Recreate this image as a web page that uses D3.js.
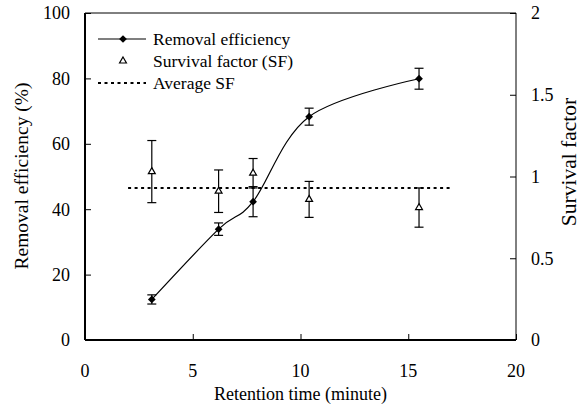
<!DOCTYPE html>
<html>
<head>
<meta charset="utf-8">
<script src="https://cdn.jsdelivr.net/npm/d3@7"></script>
<style>
  body { margin: 0; background: #fff; }
</style>
</head>
<body>
<script>
// retention time (minute)
const times = [3.1, 6.2, 7.8, 10.4, 15.5];
// removal efficiency (%) and its error
const removal = [12.4, 33.9, 42.3, 68.3, 79.9];
const removalErr = [1.4, 1.9, 4.6, 2.6, 3.2];
// survival factor and its error
const survival = [1.03, 0.91, 1.02, 0.86, 0.81];
const survivalErr = [0.19, 0.13, 0.09, 0.11, 0.12];
const averageSF = 0.93;
const avgRange = [2, 17];

const xTicks = [0, 5, 10, 15, 20];
const yTicks = [0, 20, 40, 60, 80, 100];
const y2Ticks = [0, 0.5, 1, 1.5, 2];

const W = 581, H = 408;
const margin = { left: 85, right: 65, top: 13, bottom: 68 };
const FONT = 'Liberation Serif';

const svg = d3.select('body').append('svg')
  .attr('width', W)
  .attr('height', H);

const x = d3.scaleLinear().domain([0, 20]).range([margin.left, W - margin.right]);
const y = d3.scaleLinear().domain([0, 100]).range([H - margin.bottom, margin.top]);
const y2 = d3.scaleLinear().domain([0, 2]).range([H - margin.bottom, margin.top]);

const fontSize = 18;

// every label goes through here so the serif face sticks
const label = (sel, size) => sel
  .style('font-family', FONT)
  .style('font-size', size + 'px')
  .attr('fill', '#000');

// frame: top thin, left and bottom heavier
svg.append('line')
  .attr('x1', x(0)).attr('x2', x(20)).attr('y1', y(100)).attr('y2', y(100))
  .attr('stroke', '#000').attr('stroke-width', 1);

// axes with inward ticks
const xAxis = svg.append('g')
  .attr('transform', `translate(0,${y(0)})`)
  .call(d3.axisTop(x).tickValues(xTicks).tickSize(6).tickFormat(''));
xAxis.select('.domain').attr('stroke-width', 2).attr('d', `M${x(0)},0H${x(20)}`);

svg.append('g')
  .selectAll('text')
  .data(xTicks)
  .join('text')
  .attr('x', d => x(d))
  .attr('y', y(0) + 37)
  .attr('text-anchor', 'middle')
  .call(label, fontSize)
  .text(d => d);

const yAxis = svg.append('g')
  .attr('transform', `translate(${x(0)},0)`)
  .call(d3.axisRight(y).tickValues(yTicks).tickSize(6).tickFormat(''));
yAxis.select('.domain').attr('stroke-width', 2).attr('d', `M0,${y(0)}V${y(100)}`);

svg.append('g')
  .selectAll('text')
  .data(yTicks)
  .join('text')
  .attr('x', x(0) - 15)
  .attr('y', d => y(d))
  .attr('dy', '0.35em')
  .attr('text-anchor', 'end')
  .call(label, fontSize)
  .text(d => d);

const y2Axis = svg.append('g')
  .attr('transform', `translate(${x(20)},0)`)
  .call(d3.axisLeft(y2).tickValues(y2Ticks).tickSize(6).tickFormat(''));
y2Axis.select('.domain').attr('stroke-width', 1).attr('d', `M0,${y2(0)}V${y2(2)}`);

svg.append('g')
  .selectAll('text')
  .data(y2Ticks)
  .join('text')
  .attr('x', x(20) + 15)
  .attr('y', d => y2(d))
  .attr('dy', '0.35em')
  .attr('text-anchor', 'start')
  .call(label, fontSize)
  .text(d => d);

// axis titles
svg.append('text')
  .attr('x', (x(0) + x(20)) / 2)
  .attr('y', 400)
  .attr('text-anchor', 'middle')
  .call(label, fontSize)
  .text('Retention time (minute)');

svg.append('text')
  .attr('transform', `translate(28,176) rotate(-90)`)
  .attr('text-anchor', 'middle')
  .call(label, 19.5)
  .text('Removal efficiency (%)');

svg.append('text')
  .attr('transform', `translate(576,162) rotate(-90)`)
  .attr('text-anchor', 'middle')
  .call(label, 21.5)
  .text('Survival factor');

// average SF line
svg.append('line')
  .attr('x1', x(avgRange[0])).attr('x2', x(avgRange[1]))
  .attr('y1', y2(averageSF)).attr('y2', y2(averageSF))
  .attr('stroke', '#000').attr('stroke-width', 2)
  .attr('stroke-dasharray', '3,3.5');

const reData = times.map((t, i) => ({ t, v: removal[i], e: removalErr[i] }));
const sfData = times.map((t, i) => ({ t, v: survival[i], e: survivalErr[i] }));

// error bars
const drawErr = (data, scale) => {
  const g = svg.append('g').attr('stroke', '#000').attr('stroke-width', 1.2);
  data.forEach(d => {
    const cx = x(d.t);
    g.append('line').attr('x1', cx).attr('x2', cx)
      .attr('y1', scale(d.v - d.e)).attr('y2', scale(d.v + d.e));
    [d.v - d.e, d.v + d.e].forEach(v => {
      g.append('line').attr('x1', cx - 4.5).attr('x2', cx + 4.5)
        .attr('y1', scale(v)).attr('y2', scale(v));
    });
  });
};
drawErr(sfData, y2);
drawErr(reData, y);

// smoothed removal curve
const line = d3.line()
  .x(d => x(d.t))
  .y(d => y(d.v))
  .curve(d3.curveCardinal);

svg.append('path')
  .datum(reData)
  .attr('d', line)
  .attr('fill', 'none')
  .attr('stroke', '#000')
  .attr('stroke-width', 1.2);

const diamond = d3.symbol().type(d3.symbolDiamond2).size(38);
const triangle = d3.symbol().type(d3.symbolTriangle2).size(34);

svg.append('g')
  .selectAll('path')
  .data(reData)
  .join('path')
  .attr('transform', d => `translate(${x(d.t)},${y(d.v)})`)
  .attr('d', diamond)
  .attr('fill', '#000');

svg.append('g')
  .selectAll('path')
  .data(sfData)
  .join('path')
  .attr('transform', d => `translate(${x(d.t)},${y2(d.v)})`)
  .attr('d', triangle)
  .attr('fill', '#fff')
  .attr('stroke', '#000')
  .attr('stroke-width', 1.2);

// legend
const lg = svg.append('g').attr('transform', 'translate(98,39)');
const rowH = 22;

lg.append('line').attr('x1', 0).attr('x2', 48).attr('y1', 0).attr('y2', 0)
  .attr('stroke', '#000').attr('stroke-width', 1.2);
lg.append('path').attr('transform', 'translate(25,0)').attr('d', diamond).attr('fill', '#000');
lg.append('path').attr('transform', `translate(25,${rowH})`).attr('d', triangle)
  .attr('fill', '#fff').attr('stroke', '#000').attr('stroke-width', 1.2);
lg.append('line').attr('x1', 0).attr('x2', 48).attr('y1', rowH * 2).attr('y2', rowH * 2)
  .attr('stroke', '#000').attr('stroke-width', 2).attr('stroke-dasharray', '3,3.5');

['Removal efficiency', 'Survival factor (SF)', 'Average SF'].forEach((s, i) => {
  lg.append('text')
    .attr('x', 55)
    .attr('y', i * rowH)
    .attr('dy', '0.35em')
    .call(label, 17.5)
    .text(s);
});
</script>
</body>
</html>
